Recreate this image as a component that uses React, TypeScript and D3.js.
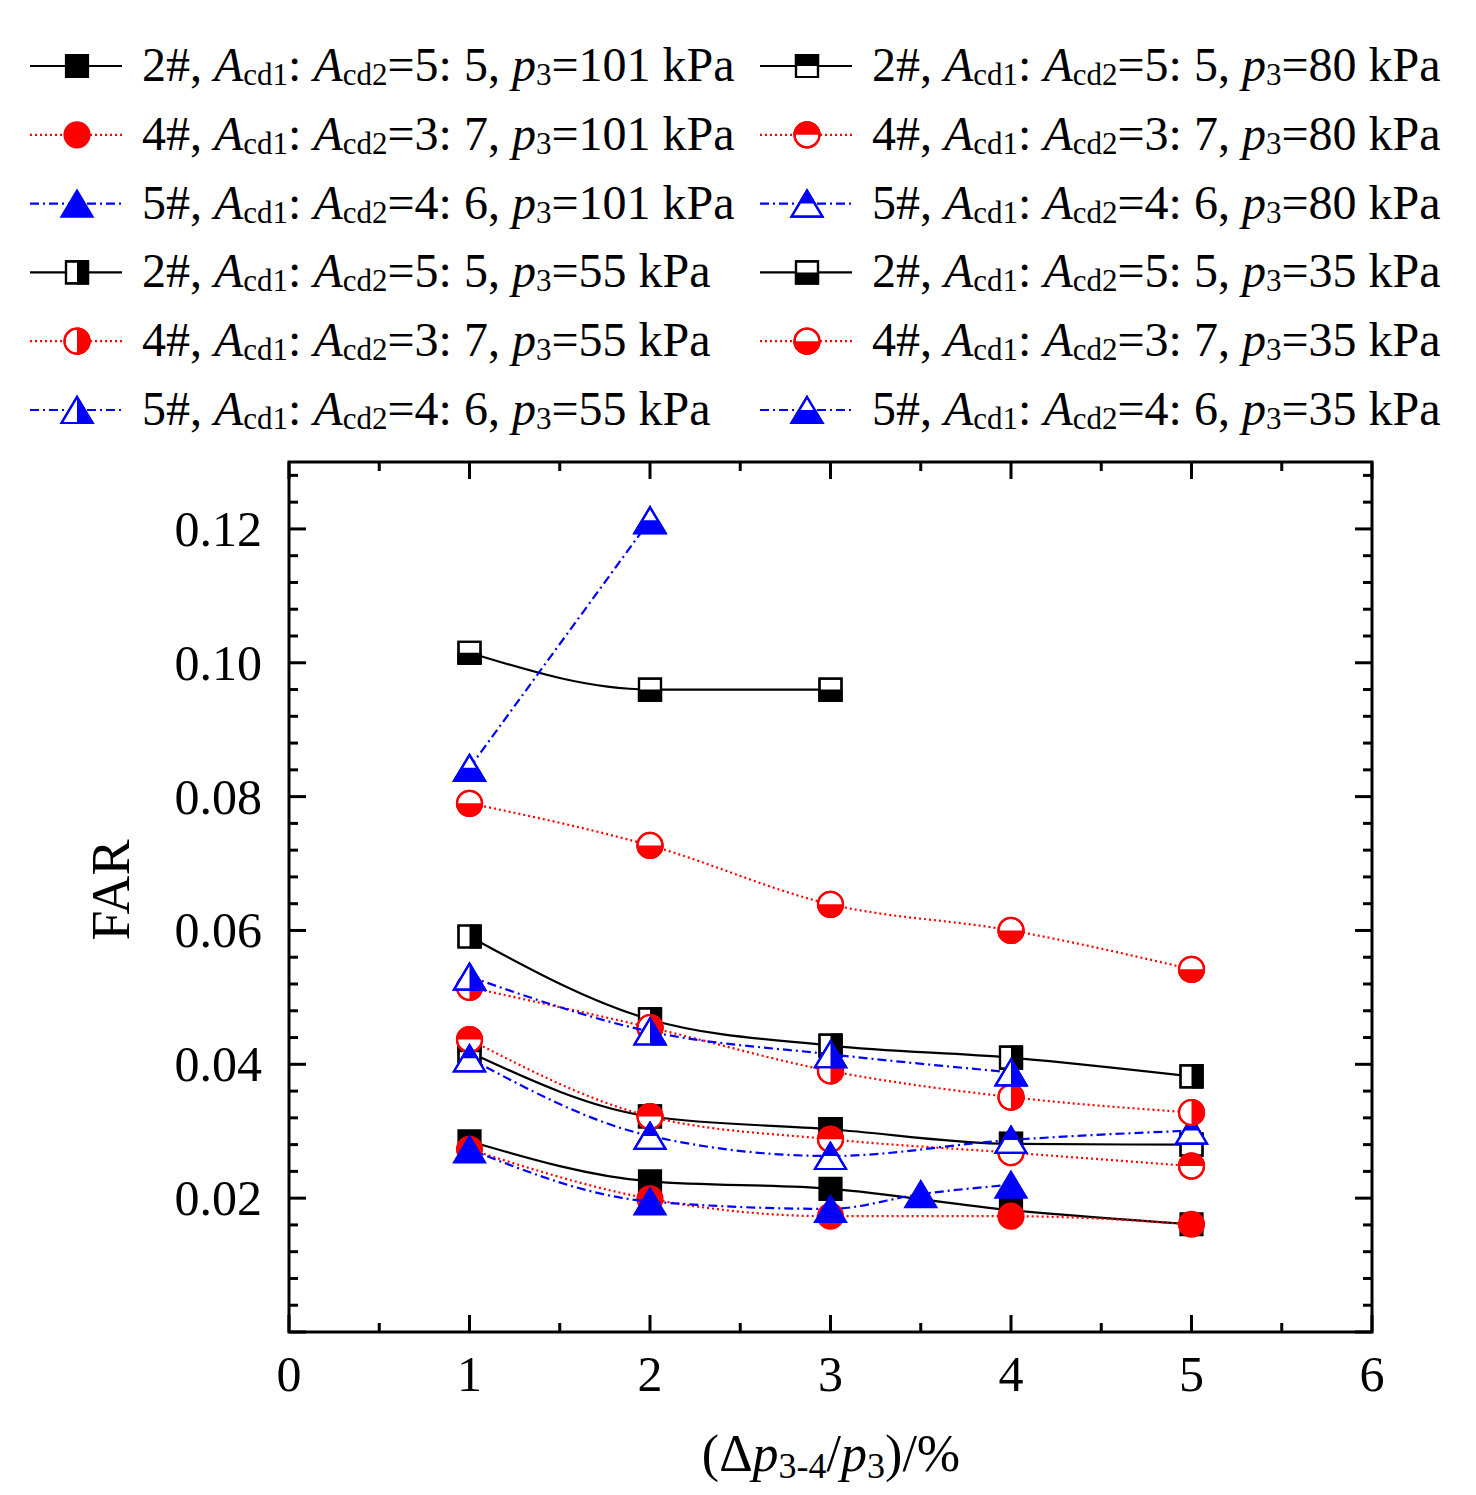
import { useEffect, useRef } from 'react';
import * as d3 from 'd3';

// x: (Δp3-4/p3)/%, y: FAR
const xTicks = [0, 1, 2, 3, 4, 5, 6];
const yTicks = [0.02, 0.04, 0.06, 0.08, 0.1, 0.12];

const xAll = [1, 2, 3, 4, 5];

const far2_101 = [0.0285, 0.0225, 0.0214, 0.0182, 0.0161];
const far4_101 = [0.0273, 0.0199, 0.0173, 0.0173, 0.0161];
const x5_101 = [1, 2, 3, 3.5, 4];
const far5_101 = [0.0273, 0.0195, 0.0184, 0.0206, 0.022];

const far2_80 = [0.0418, 0.0322, 0.0303, 0.0281, 0.028];
const far4_80 = [0.0437, 0.0322, 0.0288, 0.0268, 0.0248];
const far5_80 = [0.0409, 0.0293, 0.0263, 0.0287, 0.0301];

const far2_55 = [0.0591, 0.0467, 0.0428, 0.041, 0.0382];
const far4_55 = [0.0515, 0.0455, 0.039, 0.0351, 0.0328];
const x5_55 = [1, 2, 3, 4];
const far5_55 = [0.0531, 0.0449, 0.0415, 0.0388];

const x2_35 = [1, 2, 3];
const far2_35 = [0.1015, 0.096, 0.096];
const far4_35 = [0.079, 0.0727, 0.0639, 0.06, 0.0542];
const x5_35 = [1, 2];
const far5_35 = [0.0843, 0.1213];

type Fill = 'full' | 'top' | 'right' | 'bottom';

interface Series {
  device: string;
  ratio: string;
  p3: number;
  xs: number[];
  ys: number[];
}

// draw order (also legend order, row by row)
const series: Series[] = [
  { device: '2#', ratio: '5: 5', p3: 101, xs: xAll, ys: far2_101 },
  { device: '2#', ratio: '5: 5', p3: 80, xs: xAll, ys: far2_80 },
  { device: '4#', ratio: '3: 7', p3: 101, xs: xAll, ys: far4_101 },
  { device: '4#', ratio: '3: 7', p3: 80, xs: xAll, ys: far4_80 },
  { device: '5#', ratio: '4: 6', p3: 101, xs: x5_101, ys: far5_101 },
  { device: '5#', ratio: '4: 6', p3: 80, xs: xAll, ys: far5_80 },
  { device: '2#', ratio: '5: 5', p3: 55, xs: xAll, ys: far2_55 },
  { device: '2#', ratio: '5: 5', p3: 35, xs: x2_35, ys: far2_35 },
  { device: '4#', ratio: '3: 7', p3: 55, xs: xAll, ys: far4_55 },
  { device: '4#', ratio: '3: 7', p3: 35, xs: xAll, ys: far4_35 },
  { device: '5#', ratio: '4: 6', p3: 55, xs: x5_55, ys: far5_55 },
  { device: '5#', ratio: '4: 6', p3: 35, xs: x5_35, ys: far5_35 },
];

const deviceStyle: Record<string, { color: string; dash: string | null; shape: string }> = {
  '2#': { color: '#000000', dash: null, shape: 'square' },
  '4#': { color: '#ff0000', dash: '2 3', shape: 'circle' },
  '5#': { color: '#0000ff', dash: '9 4 2 4', shape: 'triangle' },
};

const pressureFill: Record<number, Fill> = { 101: 'full', 80: 'top', 55: 'right', 35: 'bottom' };

const shapePath: Record<string, string> = {
  square: 'M-11,-11H11V11H-11Z',
  circle: 'M-12.5,0A12.5,12.5 0 1,0 12.5,0A12.5,12.5 0 1,0 -12.5,0Z',
  triangle: 'M0,-13L15.5,13H-15.5Z',
};

const FONT = "'Times New Roman', 'Liberation Serif', serif";

export default function App() {
  const ref = useRef<SVGSVGElement | null>(null);

  useEffect(() => {
    if (!ref.current) return;
    document.body.style.margin = '0';

    const width = 1476;
    const height = 1495;
    const plot = { left: 289, right: 1372, top: 462, bottom: 1332 };

    const svg = d3.select(ref.current);
    svg.selectAll('*').remove();
    svg.attr('width', width).attr('height', height).style('font-family', FONT);

    const x = d3.scaleLinear().domain([0, 6]).range([plot.left, plot.right]);
    const y = d3.scaleLinear().domain([0, 0.13]).range([plot.bottom, plot.top]);

    const defs = svg.append('defs');
    defs.append('clipPath').attr('id', 'half-top')
      .append('rect').attr('x', -20).attr('y', -20).attr('width', 40).attr('height', 20);
    defs.append('clipPath').attr('id', 'half-right')
      .append('rect').attr('x', 0).attr('y', -20).attr('width', 20).attr('height', 40);
    defs.append('clipPath').attr('id', 'half-bottom')
      .append('rect').attr('x', -20).attr('y', 0).attr('width', 40).attr('height', 20);

    const drawMarker = (
      parent: d3.Selection<SVGGElement, unknown, null, undefined>,
      shape: string,
      color: string,
      fill: Fill,
      cx: number,
      cy: number,
    ) => {
      const m = parent.append('g').attr('transform', `translate(${cx},${cy})`);
      m.append('path')
        .attr('d', shapePath[shape])
        .attr('fill', fill === 'full' ? color : '#ffffff')
        .attr('stroke', color)
        .attr('stroke-width', 2.2);
      if (fill !== 'full') {
        m.append('path')
          .attr('d', shapePath[shape])
          .attr('fill', color)
          .attr('stroke', color)
          .attr('stroke-width', 2.2)
          .attr('clip-path', `url(#half-${fill})`);
        m.append('path')
          .attr('d', shapePath[shape])
          .attr('fill', 'none')
          .attr('stroke', color)
          .attr('stroke-width', 2.2);
      }
    };

    // frame and ticks
    const axes = svg.append('g').attr('stroke', '#000').attr('stroke-width', 3);
    axes.append('rect')
      .attr('x', plot.left).attr('y', plot.top)
      .attr('width', plot.right - plot.left).attr('height', plot.bottom - plot.top)
      .attr('fill', 'none');

    const major = 17;
    const minor = 9;
    d3.range(0, 6.01, 0.5).forEach((v) => {
      const len = Math.abs(v - Math.round(v)) < 1e-6 ? major : minor;
      axes.append('line').attr('x1', x(v)).attr('x2', x(v)).attr('y1', plot.bottom).attr('y2', plot.bottom - len);
      axes.append('line').attr('x1', x(v)).attr('x2', x(v)).attr('y1', plot.top).attr('y2', plot.top + len);
    });
    d3.range(0, 0.1301, 0.004).forEach((v, i) => {
      const len = i % 5 === 0 ? major : minor;
      axes.append('line').attr('y1', y(v)).attr('y2', y(v)).attr('x1', plot.left).attr('x2', plot.left + len);
      axes.append('line').attr('y1', y(v)).attr('y2', y(v)).attr('x1', plot.right).attr('x2', plot.right - len);
    });

    svg.append('g').selectAll('text').data(xTicks).join('text')
      .attr('x', (d) => x(d)).attr('y', plot.bottom + 59)
      .attr('text-anchor', 'middle').attr('font-size', 50)
      .text((d) => d);

    svg.append('g').selectAll('text').data(yTicks).join('text')
      .attr('x', plot.left - 27).attr('y', (d) => y(d) + 17)
      .attr('text-anchor', 'end').attr('font-size', 50)
      .text((d) => d3.format('.2f')(d));

    svg.append('text')
      .attr('transform', `translate(129,${(plot.top + plot.bottom) / 2 - 7}) rotate(-90)`)
      .attr('text-anchor', 'middle').attr('font-size', 54)
      .text('FAR');

    const xt = svg.append('text')
      .attr('x', 831).attr('y', 1471)
      .attr('text-anchor', 'middle').attr('font-size', 52);
    xt.append('tspan').text('(Δ');
    xt.append('tspan').attr('font-style', 'italic').text('p');
    xt.append('tspan').attr('font-size', 36).attr('dy', 7).text('3-4');
    xt.append('tspan').attr('dy', -7).text('/');
    xt.append('tspan').attr('font-style', 'italic').text('p');
    xt.append('tspan').attr('font-size', 36).attr('dy', 7).text('3');
    xt.append('tspan').attr('dy', -7).text(')/%');

    // series
    const plotG = svg.append('g');
    series.forEach((s) => {
      const st = deviceStyle[s.device];
      const fill = pressureFill[s.p3];
      const pts = s.xs.map((xv, i) => [x(xv), y(s.ys[i])] as [number, number]);
      const line = d3.line<[number, number]>()
        .x((d) => d[0]).y((d) => d[1])
        .curve(pts.length > 2 ? d3.curveMonotoneX : d3.curveLinear);
      const g = plotG.append('g');
      g.append('path')
        .attr('d', line(pts)!)
        .attr('fill', 'none')
        .attr('stroke', st.color)
        .attr('stroke-width', 2.2)
        .attr('stroke-dasharray', st.dash);
      pts.forEach(([px, py]) => drawMarker(g, st.shape, st.color, fill, px, py));
    });

    // legend, two columns filled row by row
    const legend = svg.append('g');
    series.forEach((s, i) => {
      const st = deviceStyle[s.device];
      const col = i % 2;
      const row = Math.floor(i / 2);
      const x0 = col === 0 ? 30 : 760;
      const cy = 66 + row * 68.8;
      const item = legend.append('g');
      item.append('line')
        .attr('x1', x0).attr('x2', x0 + 92).attr('y1', cy).attr('y2', cy)
        .attr('stroke', st.color).attr('stroke-width', 2.2)
        .attr('stroke-dasharray', st.dash);
      drawMarker(item, st.shape, st.color, pressureFill[s.p3], x0 + 47, cy);

      const t = item.append('text')
        .attr('x', x0 + 112).attr('y', cy + 15)
        .attr('font-size', 48);
      t.append('tspan').text(`${s.device}, `);
      t.append('tspan').attr('font-style', 'italic').text('A');
      t.append('tspan').attr('font-size', 31).attr('dy', 4).text('cd1');
      t.append('tspan').attr('dy', -4).text(': ');
      t.append('tspan').attr('font-style', 'italic').text('A');
      t.append('tspan').attr('font-size', 31).attr('dy', 4).text('cd2');
      t.append('tspan').attr('dy', -4).text(`=${s.ratio}, `);
      t.append('tspan').attr('font-style', 'italic').text('p');
      t.append('tspan').attr('font-size', 31).attr('dy', 4).text('3');
      t.append('tspan').attr('dy', -4).text(`=${s.p3} kPa`);
    });
  }, []);

  return (
    <div>
      <svg ref={ref}></svg>
    </div>
  );
}
